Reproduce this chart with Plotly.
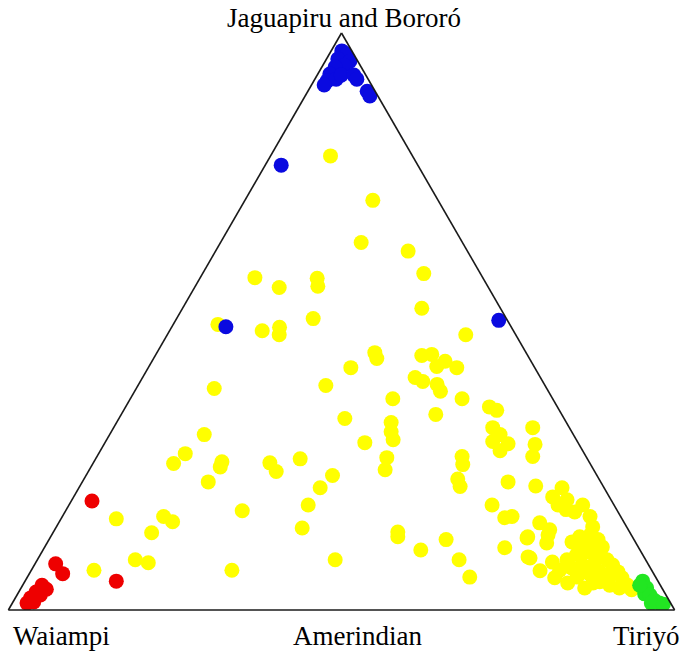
import plotly.graph_objects as go

# Ternary proportions: a = Jaguapiru and Bororó, c = Tiriyó, b = Waiampi (= 1 - a - c)
yellow_a = [.787,.710,.637,.622,.583,.576,.559,.575,.561,.505,.484,.490,.477,.495,.523,.477,.446,.436,.420,.389,
            .384,.441,.443,.431,.420,.422,.403,.396,.391,.379,.366,.366,.352,.346,.339,.332,.325,.309,.295,.290,
            .316,.304,.292,.288,.276,.316,.287,.266,.304,.271,.254,.257,.248,.222,.255,.240,.262,.264,.243,.266,
            .252,.227,.214,.233,.212,.222,.215,.182,.142,.172,.158,.162,.153,.134,.087,.082,.069,.069,.087,.182,
            .135,.127,.104,.122,.087,.057,.160,.162,.151,.108,.127,.092,.068,.130,.116,.212,.196,.191,.182,.182,
            .170,.162,.144,.130,.122,.127,.118,.125,.090,.083,.087,.096,.101,.099,.087,.078,.066,.069,.073,.078,
            .082,.066,.061,.056,.043,.049,.043,.038,.035,.057,.064,.047,.116,.109,.109,.139,.174,.056,.047,.038]
yellow_c = [.090,.192,.211,.289,.332,.082,.127,.176,.184,.205,.139,.162,.168,.067,.359,.448,.327,.335,.304,.282,
            .117,.400,.414,.440,.463,.432,.409,.424,.448,.459,.498,.394,.546,.560,.472,.339,.412,.420,.430,.390,
            .569,.586,.581,.606,.600,.629,.647,.654,.142,.130,.121,.192,.194,.189,.265,.282,.307,.436,.444,.548,
            .556,.561,.571,.370,.362,.639,.684,.359,.370,.265,.083,.152,.170,.148,.147,.169,.094,.301,.447,.635,
            .517,.521,.567,.596,.633,.664,.665,.675,.722,.691,.716,.734,.764,.745,.750,.725,.719,.743,.734,.771,
            .765,.792,.805,.808,.824,.794,.787,.716,.738,.775,.795,.805,.818,.838,.855,.868,.882,.793,.809,.823,
            .839,.855,.872,.893,.908,.863,.881,.898,.918,.825,.838,.854,.814,.837,.803,.743,.750,.792,.816,.846]

blue_a = [.969,.964,.955,.951,.944,.941,.929,.917,.920,.927,.927,.920,.899,.891,.910,.771,.491,.502]
blue_c = [.016,.026,.017,.037,.032,.020,.018,.020,.032,.036,.055,.063,.089,.097,.019,.024,.081,.485]

red_a = [.189,.080,.063,.050,.043,.031,.021,.012,.026,.014,.036]
red_c = [.031,.031,.050,.137,.029,.026,.023,.022,.035,.031,.039]

green_a = [.050,.038,.028,.026,.017,.012,.012,.010,.043]
green_c = [.927,.939,.941,.950,.961,.971,.959,.978,.926]

corner_labels = ["Jaguapiru and Bororó", "Waiampi", "Tiriyó"]
mid_label = "Amerindian"


def comp_b(a, c):
    return [round(1 - x - y, 4) for x, y in zip(a, c)]


fig = go.Figure()
for a, c, col in [(yellow_a, yellow_c, "#ffff00"),
                  (blue_a, blue_c, "#0a0ae0"),
                  (red_a, red_c, "#ee0000"),
                  (green_a, green_c, "#22e622")]:
    fig.add_trace(go.Scatterternary(
        a=a, b=comp_b(a, c), c=c, mode="markers",
        marker=dict(size=15, color=col, line=dict(width=0)),
        hoverinfo="skip", showlegend=False))

axis_style = dict(showgrid=False, showticklabels=False, ticks="", showline=True,
                  linecolor="#1a1a1a", linewidth=1.6, title=dict(text=""), min=0)

fig.update_layout(
    width=685, height=652,
    margin=dict(l=0, r=0, t=0, b=0),
    paper_bgcolor="white",
    ternary=dict(
        sum=1,
        bgcolor="white",
        domain=dict(x=[8/685, 675/685], y=[1-610/652, 1-33/652]),
        aaxis=axis_style, baxis=axis_style, caxis=axis_style,
    ),
    font=dict(family="Liberation Serif, Times New Roman, serif", size=27, color="black"),
)

ann_font = dict(family="Liberation Serif, Times New Roman, serif", size=27, color="black")
for txt, px, py in [(corner_labels[0], 344, 18), (corner_labels[1], 61, 636),
                    (mid_label, 357, 636), (corner_labels[2], 646, 636)]:
    fig.add_annotation(text=txt, x=px/685, y=1-py/652, xref="paper", yref="paper",
                       xanchor="center", yanchor="middle", showarrow=False, font=ann_font)

fig.write_html("out.html")
